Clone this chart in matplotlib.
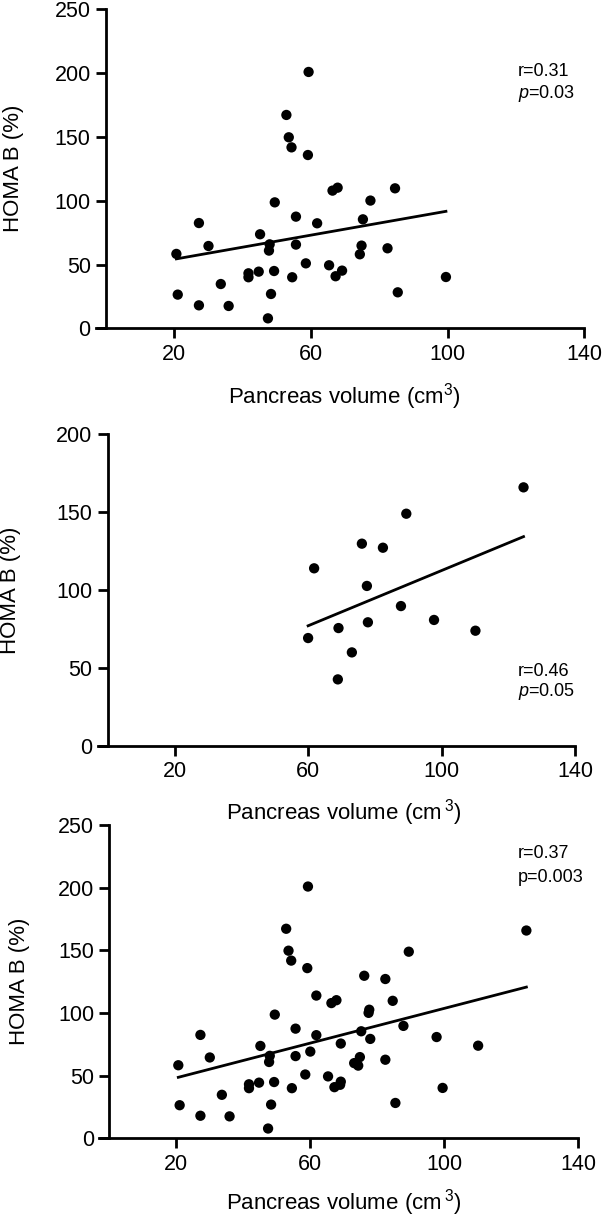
import numpy as np
import matplotlib
matplotlib.use("Agg")
import matplotlib.pyplot as plt

plt.rcParams['font.family'] = ['Liberation Sans', 'DejaVu Sans']
plt.rcParams['mathtext.fontset'] = 'custom'
plt.rcParams['mathtext.rm'] = 'Liberation Sans'
plt.rcParams['mathtext.it'] = 'Liberation Sans:italic'

# group 1 (top panel)
vol_a = [20.6, 21.0, 27.2, 27.2, 30.0, 33.6, 35.9, 41.7, 41.7, 44.7,
         45.1, 47.9, 47.7, 48.3, 47.4, 49.2, 49.4, 52.8, 53.5, 54.3,
         54.5, 55.6, 55.6, 58.5, 59.1, 59.3, 61.8, 65.3, 66.3, 67.2,
         67.8, 69.1, 74.3, 74.8, 75.2, 77.4, 82.4, 84.6, 85.4, 99.5]
homa_a = [58.3, 26.4, 82.5, 18.0, 64.5, 34.7, 17.5, 43.1, 40.0, 44.4,
          73.7, 65.8, 60.9, 26.9, 7.8, 44.9, 98.7, 167.2, 149.7, 141.8,
          40.0, 87.5, 65.6, 50.9, 135.8, 200.9, 82.3, 49.4, 107.9, 40.8,
          110.2, 45.2, 58.0, 64.8, 85.4, 100.1, 62.7, 109.7, 28.2, 40.2]

# group 2 (middle panel)
vol_b = [60.0, 61.8, 69.1, 68.9, 73.1, 76.1, 77.6, 77.9, 82.4, 87.8,
         89.4, 97.7, 110.1, 124.5]
homa_b = [69.2, 113.9, 75.6, 42.7, 60.0, 129.7, 102.6, 79.3, 127.1, 89.7,
          148.9, 80.8, 73.9, 165.8]

stats = [("r=0.31", "$p$=0.03"), ("r=0.46", "$p$=0.05"), ("r=0.37", "p=0.003")]
ymax = [250, 200, 250]
xticks = [20, 60, 100, 140]

W, H = 603, 1217
fig = plt.figure(figsize=(W / 100, H / 100), dpi=100)

# pixel boxes: left, right, top, bottom
boxes = [(95.75, 584.3, 9.3, 328.3),
         (97.7, 575.3, 434, 746),
         (99.25, 578.3, 825, 1138.3)]
ylab_x = [14, 11, 20]
xlab_y = [397, 813, 1203]
stat_y = [(71, 93), (671, 692), (854, 877)]
xlabels = ['Pancreas volume (cm$^3$)', 'Pancreas volume (cm$\\,^3$)',
           'Pancreas volume (cm$\\,^3$)']

sets = [(vol_a, homa_a), (vol_b, homa_b), (vol_a + vol_b, homa_a + homa_b)]

for i, (xs, ys) in enumerate(sets):
    l, r, t, b = boxes[i]
    ax = fig.add_axes([l / W, 1 - b / H, (r - l) / W, (b - t) / H])
    ax.scatter(xs, ys, s=55, color='black', edgecolors='none', zorder=3)
    xs_arr = np.array(xs)
    k, c = np.polyfit(xs_arr, np.array(ys), 1)
    lx = np.array([xs_arr.min(), xs_arr.max()])
    ax.plot(lx, k * lx + c, color='black', lw=2)

    ax.set_xlim(-3, 140)
    ax.set_ylim(0, ymax[i])
    ax.set_xticks(xticks)
    ax.set_yticks(np.arange(0, ymax[i] + 1, 50))
    for s in ['top', 'right']:
        ax.spines[s].set_visible(False)
    ax.spines['left'].set_position(('data', 0))
    ax.spines['left'].set_linewidth(2)
    ax.spines['bottom'].set_linewidth(2)
    ax.tick_params(axis='both', width=2, length=7, labelsize=15.5, pad=4)

    ax.set_ylabel('HOMA B (%)', fontsize=16)
    ax.yaxis.label.set_va('center')
    ax.yaxis.set_label_coords(ylab_x[i] / W, 1 - (t + b) / 2 / H, transform=fig.transFigure)
    ax.set_xlabel(xlabels[i], fontsize=16)
    ax.xaxis.label.set_va('center')
    ax.xaxis.set_label_coords(344 / W, 1 - xlab_y[i] / H, transform=fig.transFigure)

    fig.text(518 / W, 1 - stat_y[i][0] / H, stats[i][0], fontsize=13, va='center')
    fig.text(518 / W, 1 - stat_y[i][1] / H, stats[i][1], fontsize=13, va='center')

fig.savefig('out.png', dpi=100)
